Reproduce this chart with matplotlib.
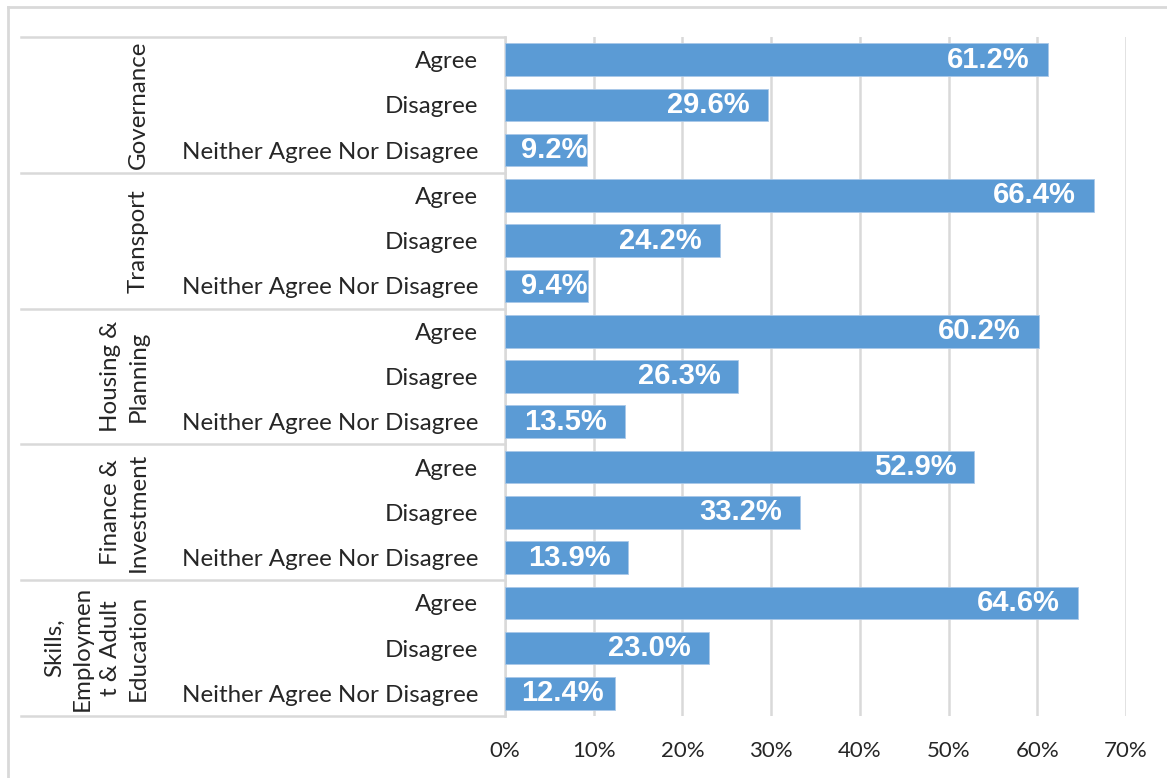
import matplotlib
matplotlib.use("Agg")
import matplotlib.pyplot as plt
from matplotlib.lines import Line2D
from matplotlib.transforms import ScaledTranslation

groups = ["Governance", "Transport", "Housing &\nPlanning", "Finance &\nInvestment",
          "Skills,\nEmploymen\nt & Adult\nEducation"]
responses = ["Agree", "Disagree", "Neither Agree Nor Disagree"]
values = [
    [61.2, 29.6, 9.2],
    [66.4, 24.2, 9.4],
    [60.2, 26.3, 13.5],
    [52.9, 33.2, 13.9],
    [64.6, 23.0, 12.4],
]
xticks = [0, 10, 20, 30, 40, 50, 60, 70]
xticklabels = ["0%", "10%", "20%", "30%", "40%", "50%", "60%", "70%"]

W, H = 1167, 778
DPI = 100
fig = plt.figure(figsize=(W / DPI, H / DPI), dpi=DPI)
fig.patch.set_facecolor("white")

ax_l, ax_r, ax_t, ax_b = 505, 1126, 37, 716
ax = fig.add_axes([ax_l / W, 1 - ax_b / H, (ax_r - ax_l) / W, (ax_b - ax_t) / H])

LABEL_FONT = ["Lato", "DejaVu Sans"]
NUM_FONT = ["Liberation Sans", "DejaVu Sans"]
TXT = "#262626"
GRID = "#d9d9d9"
BAR = "#5b9bd5"
FS = 17.4

n = len(groups) * len(responses)
ypos = []
flat_vals = []
for gi, g in enumerate(groups):
    for ri, r in enumerate(responses):
        ypos.append(gi * len(responses) + ri)
        flat_vals.append(values[gi][ri])

ax.barh(ypos, flat_vals, height=0.72, color=BAR, edgecolor="#a9c8e8", linewidth=0.6, zorder=3)
ax.set_ylim(n - 0.5, -0.5)
ax.set_xlim(0, 70)
ax.set_xticks(xticks)
ax.set_xticklabels(xticklabels, fontsize=16, color=TXT, family=LABEL_FONT)
ax.tick_params(axis="x", length=0, pad=18)
ax.set_yticks(ypos)
ax.set_yticklabels([responses[i % 3] for i in range(n)], fontsize=FS, color=TXT, family=LABEL_FONT)
ax.tick_params(axis="y", length=0, pad=19.5)
ax.grid(axis="x", color=GRID, linewidth=1.8, zorder=0)
for s in ["top", "right", "bottom"]:
    ax.spines[s].set_visible(False)
ax.spines["left"].set_color(GRID)
ax.spines["left"].set_linewidth(1.8)

trans = matplotlib.transforms.blended_transform_factory(fig.transFigure, ax.transData)
x0 = 21 / W
x1 = ax_l / W
for k in range(len(groups) + 1):
    yb = k * len(responses) - 0.5
    fig.add_artist(Line2D([x0, x1], [yb, yb], transform=trans, color=GRID, linewidth=1.8))

for gi, g in enumerate(groups):
    yc = gi * len(responses) + 1
    fig.text(149 / W, yc, g, transform=trans, rotation=90, ha="right", va="center",
             multialignment="center", fontsize=FS, color=TXT, family=LABEL_FONT,
             linespacing=1.42)

fig.canvas.draw()
renderer = fig.canvas.get_renderer()
pad = 18
for y, v in zip(ypos, flat_vals):
    t = ax.text(v, y, f"{v:.1f}%", ha="right", va="center", color="white",
                fontsize=21, fontweight="bold", family=NUM_FONT, zorder=5,
                transform=ax.transData + ScaledTranslation(-pad / DPI, 0, fig.dpi_scale_trans))
    bb = t.get_window_extent(renderer)
    x_start = ax.transData.transform((0, y))[0]
    if bb.x0 < x_start + pad:
        t.set_ha("left")
        t.set_x(0)
        t.set_transform(ax.transData + ScaledTranslation(16 / DPI, 0, fig.dpi_scale_trans))

fig.add_artist(Line2D([8 / W, 1], [1 - 7 / H, 1 - 7 / H], transform=fig.transFigure, color=GRID, linewidth=2))
fig.add_artist(Line2D([8 / W, 8 / W], [0, 1 - 7 / H], transform=fig.transFigure, color=GRID, linewidth=2))

fig.savefig("out.png", dpi=DPI)
